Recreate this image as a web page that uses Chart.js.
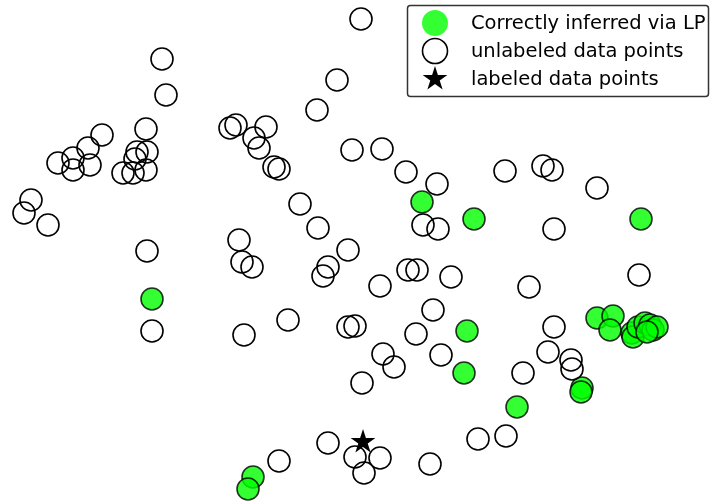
<!DOCTYPE html>
<html>
<head>
<meta charset="utf-8">
<script src="https://cdn.jsdelivr.net/npm/chart.js@4.4.0/dist/chart.umd.min.js"></script>
<style>
  html, body { margin: 0; padding: 0; background: #ffffff; }
  canvas { display: block; }
</style>
</head>
<body>
<canvas id="c" width="710" height="504"></canvas>
<script>
// Embedding coordinates of the unlabeled points
const openX = [36.1, 16.2, 16.6, 33.7, 31.7, 10.2, 8.8, 7.3, 5.8, 7.3, 9.0, 14.6, 13.7, 14.7, 13.5, 12.3, 13.3, 14.6,
  23.0, 23.6, 26.6, 25.4, 25.9, 27.4, 27.9, 35.2, 38.2, 40.6, 43.7, 50.5, 54.3, 55.2, 59.7, 3.1, 2.4, 4.8,
  30.0, 31.8, 23.9, 14.7, 34.8, 42.3, 43.8, 55.4, 24.2, 25.2, 32.8, 32.3, 40.8, 41.7, 45.1, 38.0, 52.9, 63.9,
  43.3, 28.8, 15.2, 24.4, 34.8, 35.5, 41.6, 55.4, 38.3, 39.4, 44.1, 54.8, 57.1, 57.2, 52.3, 36.2,
  32.8, 35.5, 38.0, 36.4, 27.9, 43.0, 47.8, 50.6];
const openY = [48.5, 44.5, 40.9, 42.4, 39.4, 36.9, 35.6, 34.6, 34.1, 33.4, 33.9, 37.5, 35.2, 35.2, 34.5, 33.1, 33.1, 33.4,
  37.6, 37.9, 37.7, 36.6, 35.6, 33.7, 33.5, 35.4, 35.5, 33.2, 32.0, 33.3, 33.8, 33.4, 31.6, 30.4, 29.1, 27.9,
  30.0, 27.6, 26.4, 25.3, 25.4, 27.9, 27.5, 27.5, 24.2, 23.7, 23.7, 22.8, 23.4, 23.4, 22.7, 21.8, 21.7, 22.9,
  19.4, 18.4, 17.3, 16.9, 17.7, 17.8, 17.0, 17.7, 15.0, 13.7, 14.9, 15.2, 14.4, 13.5, 13.1, 12.1,
  6.1, 4.7, 4.6, 3.1, 4.3, 4.0, 6.5, 6.8];

// Points whose label propagation result was correct
const lpX = [42.2, 47.4, 64.1, 15.2, 46.7, 46.4, 51.7, 58.2, 58.1, 59.7, 61.3, 61.0, 63.2, 63.3, 63.8, 64.5, 65.0, 65.3, 65.7, 64.7, 25.3, 24.8];
const lpY = [30.2, 28.5, 28.5, 20.5, 17.3, 13.1, 9.7, 11.6, 11.2, 18.6, 18.8, 17.4, 17.1, 16.7, 17.7, 18.1, 17.9, 17.4, 17.7, 17.2, 2.7, 1.5];

// The single labeled point
const labeledX = [36.3];
const labeledY = [6.2];

const legendLabels = ['Correctly inferred via LP', 'unlabeled data points', 'labeled data points'];

const toPoints = (xs, ys) => xs.map((x, i) => ({ x: x, y: ys[i] }));

// Filled five-pointed star used as a point style
function makeStar(R) {
  const size = Math.ceil(R * 2 + 2);
  const cv = document.createElement('canvas');
  cv.width = size; cv.height = size;
  const g = cv.getContext('2d');
  const cx = size / 2, cy = size / 2, r = R * 0.382;
  g.beginPath();
  for (let k = 0; k < 10; k++) {
    const rad = k % 2 === 0 ? R : r;
    const a = -Math.PI / 2 + k * Math.PI / 5;
    const px = cx + rad * Math.cos(a), py = cy + rad * Math.sin(a);
    if (k === 0) g.moveTo(px, py); else g.lineTo(px, py);
  }
  g.closePath();
  g.fillStyle = '#000000';
  g.fill();
  return cv;
}
const starImg = makeStar(13);

const GREEN_FILL = 'rgba(0,255,0,0.8)';
const GREEN_EDGE = 'rgba(0,0,0,0.8)';

// Boxed legend in the upper right corner
const boxLegend = {
  id: 'boxLegend',
  afterDraw(chart) {
    const ctx = chart.ctx;
    const bx = 407.5, by = 5.5, bw = 301, bh = 91, rr = 3;
    ctx.save();
    ctx.beginPath();
    ctx.moveTo(bx + rr, by);
    ctx.lineTo(bx + bw - rr, by);
    ctx.quadraticCurveTo(bx + bw, by, bx + bw, by + rr);
    ctx.lineTo(bx + bw, by + bh - rr);
    ctx.quadraticCurveTo(bx + bw, by + bh, bx + bw - rr, by + bh);
    ctx.lineTo(bx + rr, by + bh);
    ctx.quadraticCurveTo(bx, by + bh, bx, by + bh - rr);
    ctx.lineTo(bx, by + rr);
    ctx.quadraticCurveTo(bx, by, bx + rr, by);
    ctx.closePath();
    ctx.fillStyle = '#ffffff';
    ctx.fill();
    ctx.lineWidth = 1.5;
    ctx.strokeStyle = 'rgba(0,0,0,0.8)';
    ctx.stroke();

    const mx = 435;
    const rows = [23, 51, 79];
    const styles = [
      { pointStyle: 'circle', radius: 13, borderWidth: 0, fill: 'rgba(0,255,0,0.8)', stroke: 'rgba(0,0,0,0)' },
      { pointStyle: 'circle', radius: 12.5, borderWidth: 1.6, fill: 'rgba(0,0,0,0)', stroke: '#000000' },
      { pointStyle: starImg, radius: 13, borderWidth: 0, fill: '#000000', stroke: '#000000' }
    ];
    styles.forEach((s, i) => {
      ctx.fillStyle = s.fill;
      ctx.strokeStyle = s.stroke;
      ctx.lineWidth = s.borderWidth;
      Chart.helpers.drawPoint(ctx, { pointStyle: s.pointStyle, radius: s.radius, rotation: 0, borderWidth: s.borderWidth }, mx, rows[i]);
    });

    ctx.fillStyle = '#000000';
    ctx.font = '19.5px "DejaVu Sans"';
    ctx.textBaseline = 'alphabetic';
    ctx.textAlign = 'left';
    const baselines = [29, 57, 85];
    legendLabels.forEach((t, i) => ctx.fillText(t, 471, baselines[i]));
    ctx.restore();
  }
};

new Chart(document.getElementById('c'), {
  type: 'scatter',
  data: {
    datasets: [
      {
        label: legendLabels[1],
        data: toPoints(openX, openY),
        pointStyle: 'circle',
        pointRadius: 11,
        pointBorderWidth: 1.6,
        pointBackgroundColor: 'rgba(0,0,0,0)',
        pointBorderColor: '#000000'
      },
      {
        label: legendLabels[0],
        data: toPoints(lpX, lpY),
        pointStyle: 'circle',
        pointRadius: 11,
        pointBorderWidth: 1.6,
        pointBackgroundColor: GREEN_FILL,
        pointBorderColor: GREEN_EDGE
      },
      {
        label: legendLabels[2],
        data: toPoints(labeledX, labeledY),
        pointStyle: starImg,
        pointRadius: 13,
        pointBackgroundColor: '#000000',
        pointBorderColor: '#000000'
      }
    ]
  },
  options: {
    responsive: false,
    animation: false,
    devicePixelRatio: 1,
    layout: { padding: 0, autoPadding: false },
    plugins: { legend: { display: false }, tooltip: { enabled: false } },
    scales: {
      x: { type: 'linear', min: 0, max: 71, display: false },
      y: { type: 'linear', min: 0, max: 50.4, display: false }
    }
  },
  plugins: [boxLegend]
});
</script>
</body>
</html>
